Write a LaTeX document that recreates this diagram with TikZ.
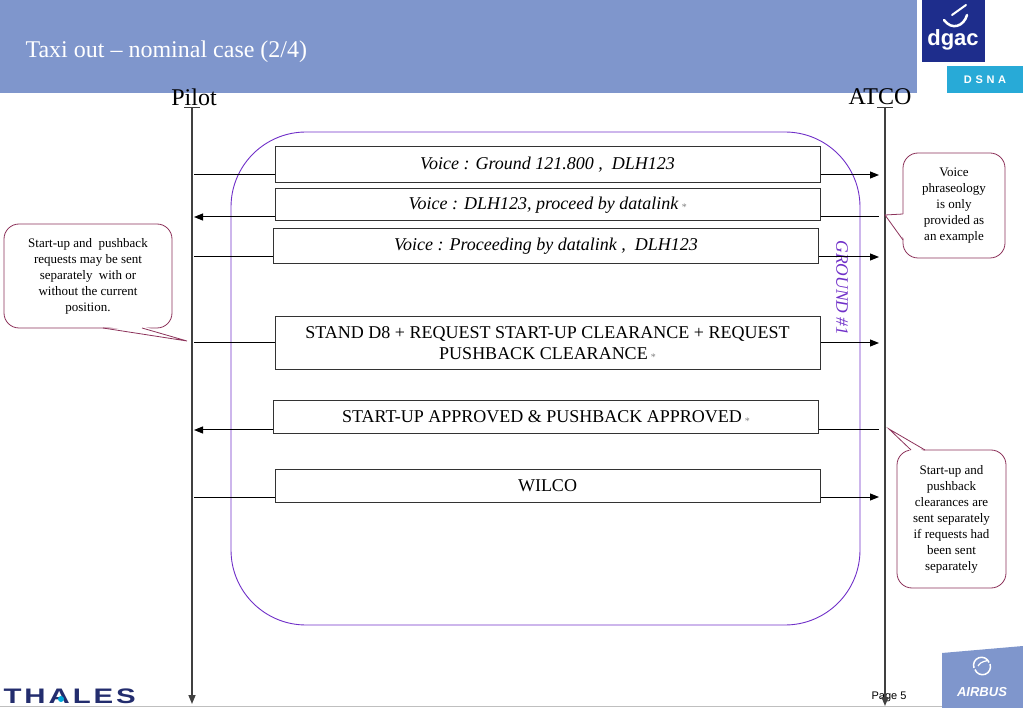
\documentclass[tikz,border=0pt]{standalone}
\usepackage{fontspec}
\setmainfont{Liberation Serif}
\setsansfont{Liberation Sans}
\newfontfamily\logofont[FakeStretch=1.4,LetterSpace=14]{Liberation Sans}
\usetikzlibrary{positioning}
\usetikzlibrary{arrows.meta}
\tikzset{>={Triangle[length=9pt,width=7pt]}}
\definecolor{headblue}{RGB}{127,150,204}
\definecolor{dgacblue}{RGB}{30,45,140}
\definecolor{dsnacyan}{RGB}{40,170,215}
\definecolor{grndpurple}{RGB}{112,48,200}
\definecolor{notered}{RGB}{140,50,90}
\definecolor{thalesblue}{RGB}{35,45,110}
\definecolor{thalescyan}{RGB}{0,170,220}
\tikzset{
	% message boxes
	msgbox/.style={draw=black!80,line width=1pt,fill=white,minimum width=545pt,inner sep=0pt,align=center,font=\fontsize{18}{21}\selectfont},
	msgline/.style={line width=1pt},
	% lifelines
	lifeline/.style={draw=black!75,line width=1.5pt,->},
	% notes
	notebox/.style={draw=notered,line width=0.8pt,fill=white,rounded corners=15pt,align=center,inner sep=0pt,font=\fontsize{13}{16}\selectfont},
	notetip/.style={draw=notered,line width=0.8pt},
}
\newcommand{\smallstar}{\,{\fontsize{10}{10}\selectfont\color{gray}\raisebox{-1.5pt}{*}}}

\begin{document}
\begin{tikzpicture}[x=1pt,y=-1pt]
\useasboundingbox (0,0) rectangle (1023,708);
% header
\fill[headblue] (0,0) rectangle (917,93);
\node[anchor=base west,white,font=\fontsize{24}{28}\selectfont] (title) at (22,58) {Taxi out -- nominal case (2/4)};
% dgac logo
\fill[dgacblue] (922,0) rectangle (985,62);
\fill[dsnacyan] (947,66) rectangle (1023,93);
\draw[white,line width=2.5pt,line cap=round] (944,20) .. controls (952,31) and (964,26) .. (967,15);
\draw[white,line width=2pt,line cap=round] (952,15) -- (966,5);
\node[white,font=\sffamily\bfseries\fontsize{22}{22}\selectfont] (dgac) at (953,40) {dgac};
\node[white,font=\sffamily\bfseries\fontsize{11}{11}\selectfont] (dsna) at (985,80) {D\,\,S\,\,N\,\,A};
% footer
\draw[gray!50,line width=0.8pt] (0,706) -- (942,706);
\node[anchor=west,thalesblue,font=\logofont\bfseries\fontsize{21}{21}\selectfont] (thales) at (0,696) {THALES};
\fill[thalescyan] (61,699) circle (3pt);
\fill[headblue] (942,653) -- (1023,646) -- (1023,708) -- (942,708) -- cycle;
\draw[white,line width=1.5pt] (974,668) arc (200:20:8pt);
\draw[white,line width=1.5pt] (990,664) arc (20:-160:8pt);
\draw[white,line width=1.2pt] (978,666) .. controls (982,660) and (986,662) .. (988,660);
\node[white,font=\sffamily\bfseries\itshape\fontsize{13}{13}\selectfont] (airbus) at (982,692) {AIRBUS};
\node[font=\sffamily\fontsize{11}{11}\selectfont] (page) at (889,697) {Page 5};
% actors and lifelines
\node[font=\fontsize{24}{24}\selectfont] (pilot) at (194,97) {Pilot};
\node[font=\fontsize{24}{24}\selectfont] (atco) at (880,97) {ATCO};
\coordinate (pilottop) at (192,108);
\coordinate (pilotbot) at (192,704);
\coordinate (atcotop) at (885,108);
\coordinate (atcobot) at (885,706);
\draw[lifeline] (pilottop) -- (pilotbot);
\draw[lifeline] (atcotop) -- (atcobot);
\draw[black!75,line width=1pt] ([xshift=-8pt]pilottop) -- ([xshift=8pt]pilottop);
\draw[black!75,line width=1pt] ([xshift=-8pt]atcotop) -- ([xshift=8pt]atcotop);
% ground frame
\node[draw=grndpurple,line width=0.9pt,rounded corners=75pt,minimum width=629pt,minimum height=493pt] (ground) at (545.5,378.5) {};
\node[rotate=-90,grndpurple,font=\itshape\fontsize{17.5}{20}\selectfont] (groundlabel) at (842,288) {GROUND \#1};
% messages
\node[msgbox,minimum height=36pt] (m1) at (547.5,165) {\itshape Voice : Ground 121.800 ,\ \ DLH123};
\node[msgbox,minimum height=32pt] (m2) at (547.5,205) {\itshape Voice : DLH123, proceed by datalink\smallstar};
\node[msgbox,minimum height=35pt] (m3) at (546,246.5) {\itshape Voice : Proceeding by datalink ,\ \ DLH123};
\node[msgbox,minimum height=53pt] (m4) at (547.5,343.5) {STAND D8 + REQUEST START-UP CLEARANCE + REQUEST\\PUSHBACK CLEARANCE\smallstar};
\node[msgbox,minimum height=33pt] (m5) at (546,417.5) {START-UP APPROVED \& PUSHBACK APPROVED\smallstar};
\node[msgbox,minimum height=33pt] (m6) at (547.5,485.5) {WILCO};
\foreach \n/\y in {1/175,2/217,3/257,4/343,5/430,6/497}{
  \coordinate (p\n) at (194,\y);
  \coordinate (a\n) at (879,\y);
}
% pilot to atco
\foreach \n in {1,3,4,6}{
  \draw[msgline] (p\n) -- (m\n.west |- p\n);
  \draw[msgline,->] (m\n.east |- a\n) -- (a\n);
}
% atco to pilot
\foreach \n in {2,5}{
  \draw[msgline,<-] (p\n) -- (m\n.west |- p\n);
  \draw[msgline] (m\n.east |- a\n) -- (a\n);
}
% notes
\node[notebox,minimum width=168pt,minimum height=104pt] (noteleft) at (88,276) {Start-up and\ \ pushback\\requests may be sent\\separately\ \ with or\\without the current\\position.};
\coordinate (tipleft) at (187,341);
\fill[white] (103,326) -- (tipleft) -- (142,326) -- cycle;
\draw[notetip] (103,328) -- (tipleft) -- (142,328);
\node[notebox,minimum width=102pt,minimum height=105pt] (notevoice) at (954,205.5) {Voice\\phraseology\\is only\\provided as\\an example};
\coordinate (tipvoice) at (885,215);
\fill[white] (905,214) -- (tipvoice) -- (905,240) -- cycle;
\draw[notetip] (903,214) -- (tipvoice) -- (903,240);
\node[notebox,minimum width=109pt,minimum height=138pt] (noteclear) at (951.5,519) {Start-up and\\pushback\\clearances are\\sent separately\\if requests had\\been sent\\separately};
\coordinate (tipclear) at (889,429);
\fill[white] (911,452) -- (tipclear) -- (925,452) -- cycle;
\draw[notetip] (911,450) -- (tipclear) -- (925,450);
\end{tikzpicture}
\end{document}
